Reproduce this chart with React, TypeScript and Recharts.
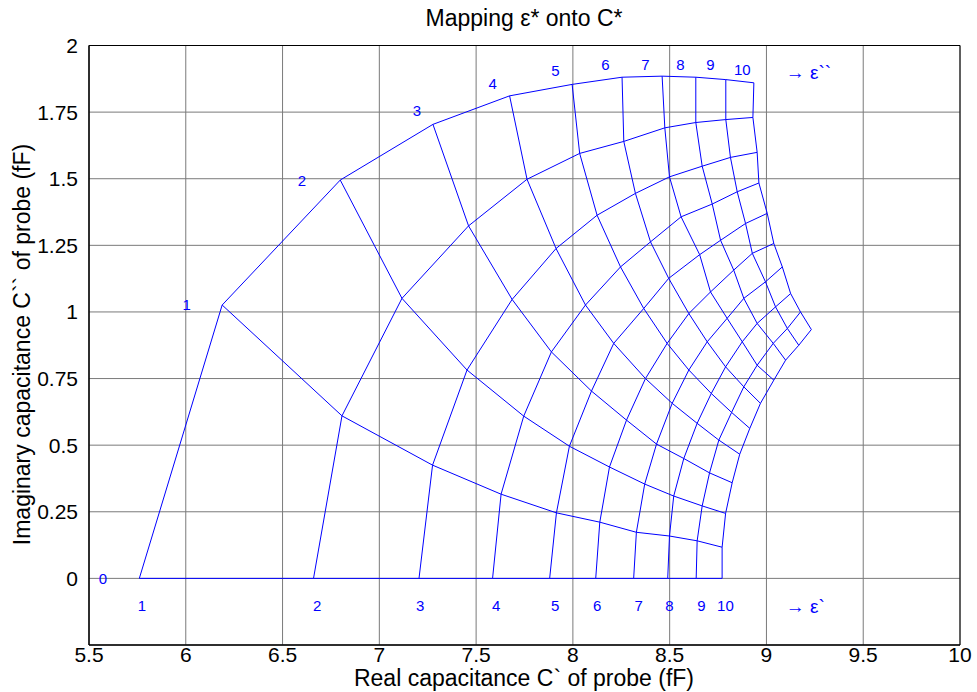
import {
  ComposedChart,
  Line,
  Scatter,
  XAxis,
  YAxis,
  CartesianGrid,
  ReferenceArea,
} from "recharts";

type Pt = [number, number];

// mesh nodes, one array per eps'' value (0..10), each listing eps' = 1..10 as [C', C'']
const row0: Pt[] = [[5.76, 0], [6.66, 0], [7.205, 0], [7.585, 0], [7.88, 0], [8.118, 0], [8.314, 0], [8.49, 0], [8.637, 0], [8.771, 0]];
const row1: Pt[] = [[6.188, 1.026], [6.807, 0.61], [7.275, 0.425], [7.629, 0.316], [7.915, 0.246], [8.139, 0.211], [8.328, 0.173], [8.499, 0.159], [8.642, 0.141], [8.771, 0.117]];
const row2: Pt[] = [[6.798, 1.495], [7.117, 1.051], [7.453, 0.782], [7.746, 0.609], [7.982, 0.496], [8.189, 0.418], [8.371, 0.354], [8.521, 0.309], [8.668, 0.272], [8.789, 0.244]];
const row3: Pt[] = [[7.277, 1.704], [7.461, 1.323], [7.686, 1.047], [7.889, 0.85], [8.096, 0.703], [8.277, 0.594], [8.432, 0.504], [8.573, 0.45], [8.706, 0.396], [8.823, 0.359]];
const row4: Pt[] = [[7.673, 1.811], [7.763, 1.498], [7.913, 1.238], [8.065, 1.026], [8.211, 0.882], [8.375, 0.75], [8.513, 0.657], [8.642, 0.582], [8.754, 0.519], [8.862, 0.466]];
const row5: Pt[] = [[7.996, 1.854], [8.035, 1.595], [8.125, 1.363], [8.246, 1.169], [8.366, 1.013], [8.487, 0.882], [8.599, 0.782], [8.715, 0.694], [8.82, 0.623], [8.914, 0.563]];
const row6: Pt[] = [[8.254, 1.881], [8.263, 1.64], [8.323, 1.445], [8.401, 1.263], [8.495, 1.126], [8.599, 0.994], [8.694, 0.888], [8.789, 0.794], [8.883, 0.719], [8.969, 0.657]];
const row7: Pt[] = [[8.461, 1.885], [8.475, 1.691], [8.499, 1.507], [8.559, 1.357], [8.655, 1.215], [8.711, 1.075], [8.797, 0.976], [8.875, 0.888], [8.952, 0.8], [9.038, 0.744]];
const row8: Pt[] = [[8.635, 1.881], [8.635, 1.711], [8.668, 1.547], [8.72, 1.405], [8.763, 1.269], [8.831, 1.157], [8.883, 1.051], [8.952, 0.957], [9.035, 0.882], [9.099, 0.819]];
const row9: Pt[] = [[8.79, 1.872], [8.79, 1.722], [8.814, 1.58], [8.849, 1.451], [8.892, 1.332], [8.927, 1.22], [8.995, 1.113], [9.047, 1.019], [9.108, 0.938], [9.167, 0.875]];
const row10: Pt[] = [[8.935, 1.86], [8.93, 1.73], [8.952, 1.599], [8.961, 1.484], [9.004, 1.37], [9.038, 1.257], [9.082, 1.169], [9.125, 1.069], [9.176, 1.0], [9.232, 0.934]];

const rows = [row0, row1, row2, row3, row4, row5, row6, row7, row8, row9, row10];
// lines of constant eps' run through the same nodes column-wise
const cols = row0.map((_, j) => rows.map((r) => r[j]));

const toData = (pts: Pt[]) => pts.map(([x, y]) => ({ x, y }));

const xTicks = [5.5, 6, 6.5, 7, 7.5, 8, 8.5, 9, 9.5, 10];
const yTicks = [0, 0.25, 0.5, 0.75, 1, 1.25, 1.5, 1.75, 2];

// eps'' numbers along the outer curve, eps' numbers under the axis
const imagText = ["0", "1", "2", "3", "4", "5", "6", "7", "8", "9", "10"];
const imagTextX = [5.572, 6.005, 6.6, 7.194, 7.585, 7.91, 8.168, 8.375, 8.556, 8.711, 8.875];
const imagTextY = [0, 1.028, 1.495, 1.757, 1.857, 1.907, 1.927, 1.93, 1.927, 1.927, 1.911];
const realText = ["1", "2", "3", "4", "5", "6", "7", "8", "9", "10"];
const realTextX = [5.774, 6.679, 7.211, 7.604, 7.909, 8.125, 8.34, 8.499, 8.664, 8.788];
const realTextY = -0.1;

const labelData = [
  ...imagText.map((t, i) => ({ x: imagTextX[i], y: imagTextY[i], t, big: false })),
  ...realText.map((t, i) => ({ x: realTextX[i], y: realTextY, t, big: false })),
  { x: 9.1, y: 1.9, t: "\u2192 \u03b5``", big: true },
  { x: 9.1, y: -0.105, t: "\u2192 \u03b5`", big: true },
];

const FONT = "'Liberation Sans', Arial, sans-serif";
const BLUE = "#0000ff";

const LabelMark = (props: any) => {
  const { cx, cy, payload } = props;
  return (
    <text
      x={cx}
      y={cy}
      fill={BLUE}
      fontSize={payload.big ? 19 : 15}
      fontFamily={FONT}
      textAnchor={payload.big ? "start" : "middle"}
      dominantBaseline="central"
    >
      {payload.t}
    </text>
  );
};

export default function App() {
  return (
    <div
      style={{
        position: "absolute",
        left: 0,
        top: 0,
        width: 977,
        height: 692,
        background: "#fff",
        fontFamily: FONT,
      }}
    >
      <div
        style={{
          position: "absolute",
          left: 274,
          top: 7,
          width: 500,
          textAlign: "center",
          fontSize: 23,
          lineHeight: "23px",
        }}
      >
        Mapping {"\u03b5"}* onto C*
      </div>

      <ComposedChart
        width={977}
        height={692}
        margin={{ top: 45.5, right: 17, bottom: 7, left: 29 }}
      >
        <CartesianGrid stroke="#7a7a7a" />
        <XAxis
          type="number"
          dataKey="x"
          domain={[5.5, 10]}
          ticks={xTicks}
          allowDataOverflow
          height={40}
          tickLine={false}
          tickSize={0}
          tickMargin={2}
          axisLine={{ stroke: "#000" }}
          tick={{ fill: "#000", fontSize: 21, fontFamily: FONT }}
        />
        <YAxis
          type="number"
          dataKey="y"
          domain={[-0.25, 2]}
          ticks={yTicks}
          allowDataOverflow
          width={60}
          tickLine={false}
          tickSize={0}
          tickMargin={11}
          axisLine={{ stroke: "#000" }}
          tick={{ fill: "#000", fontSize: 21, fontFamily: FONT }}
        />
        <ReferenceArea
          x1={5.5}
          x2={10}
          y1={-0.25}
          y2={2}
          fill="none"
          stroke="#000"
          strokeOpacity={1}
        />
        {rows.map((r, i) => (
          <Line
            key={"row" + i}
            data={toData(r)}
            dataKey="y"
            type="linear"
            stroke={BLUE}
            strokeWidth={1}
            dot={false}
            activeDot={false}
            isAnimationActive={false}
          />
        ))}
        {cols.map((c, j) => (
          <Line
            key={"col" + j}
            data={toData(c)}
            dataKey="y"
            type="linear"
            stroke={BLUE}
            strokeWidth={1}
            dot={false}
            activeDot={false}
            isAnimationActive={false}
          />
        ))}
        <Scatter
          data={labelData}
          dataKey="y"
          shape={LabelMark}
          isAnimationActive={false}
        />
      </ComposedChart>

      <div
        style={{
          position: "absolute",
          left: 274,
          top: 667,
          width: 500,
          textAlign: "center",
          fontSize: 23,
          lineHeight: "23px",
        }}
      >
        Real capacitance C` of probe (fF)
      </div>
      <div
        style={{
          position: "absolute",
          left: 22 - 250,
          top: 345 - 12,
          width: 500,
          textAlign: "center",
          fontSize: 23,
          lineHeight: "23px",
          transform: "rotate(-90deg)",
        }}
      >
        Imaginary capacitance C`` of probe (fF)
      </div>
    </div>
  );
}
